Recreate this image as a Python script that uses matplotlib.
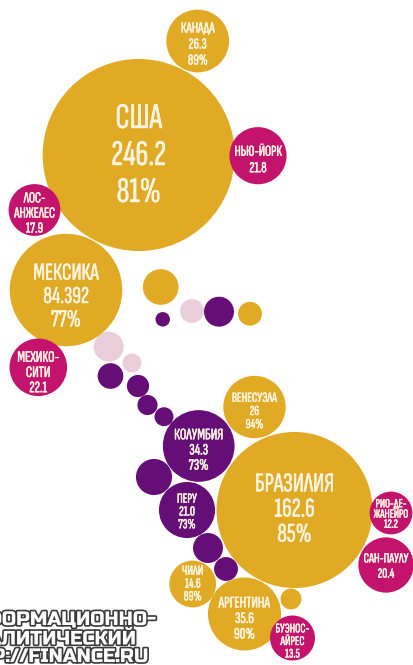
import matplotlib
matplotlib.use("Agg")
import matplotlib.pyplot as plt
import matplotlib.patheffects as pe
from matplotlib.patches import Circle
import numpy as np

W, H = 414, 665
GOLD, MAGENTA, PURPLE, PINK = "#E0AA25", "#C4136D", "#660E78", "#E9CEDA"
K = 6.12  # px radius per sqrt(value)

names = ["США", "КАНАДА", "НЬЮ-ЙОРК", "ЛОС-\nАНЖЕЛЕС", "МЕКСИКА", "МЕХИКО-\nСИТИ",
         "ВЕНЕСУЭЛА", "КОЛУМБИЯ", "БРАЗИЛИЯ", "ПЕРУ", "РИО-ДЕ-\nЖАНЕЙРО", "САН-ПАУЛУ",
         "ЧИЛИ", "АРГЕНТИНА", "БУЭНОС-\nАЙРЕС"]
values = [246.2, 26.3, 21.8, 17.9, 84.392, 22.1, 26, 34.3, 162.6, 21.0, 12.2, 20.4, 14.6, 35.6, 13.5]
value_labels = ["246.2", "26.3", "21.8", "17.9", "84.392", "22.1", "26", "34.3", "162.6", "21.0",
                "12.2", "20.4", "14.6", "35.6", "13.5"]
shares = ["81%", "89%", "", "", "77%", "", "94%", "73%", "85%", "73%", "", "", "89%", "90%", ""]
colors = [GOLD, GOLD, MAGENTA, MAGENTA, GOLD, MAGENTA, GOLD, PURPLE, GOLD, PURPLE,
          MAGENTA, MAGENTA, GOLD, GOLD, MAGENTA]
xs = [138.7, 197.7, 258, 34.5, 66, 38.3, 254.5, 198.7, 294.5, 187, 391, 386, 192.7, 244.5, 292.5]
ys = [155, 41, 155.7, 210, 290, 367.3, 407, 446, 510, 510, 513, 565, 584, 614, 638]
font_sizes = [26, 11, 11, 11, 17.5, 11.5, 10, 11.5, 19.5, 10, 9, 10, 10, 11.5, 9.5]
line_spacing = [1.2, 1.19, 1.22, 1.1, 1.08, 1.11, 1.02, 1.11, 1.12, 0.98, 1.01, 1.22, 0.98, 1.15, 0.96]
text_dy = [1, 3.5, 4.3, 3.5, 7, 5.7, 4.5, 4.5, 0, 2, 1.5, 1.5, 0, 5, 3.5]

other_values = [8.5, 1.4, 3.8, 6, 3.8, 6, 2.4, 4.4, 3.3, 2.7, 2.4, 8.7, 6, 3.8, 2.9]
other_colors = [GOLD, PURPLE, PINK, PURPLE, GOLD, PINK, PINK, PURPLE, PURPLE, PURPLE, PURPLE,
                PURPLE, PURPLE, PURPLE, GOLD]
other_xs = [160.7, 162.7, 192, 219, 250, 108.7, 132, 110.5, 138, 147.5, 164, 154, 208, 226, 291]
other_ys = [287, 319.3, 311, 311.7, 313.7, 346.7, 363, 376, 386, 405, 416.7, 477, 548, 569, 599]

watermark = ["ИНФОРМАЦИОННО-", "АНАЛИТИЧЕСКИЙ", "HTTP://FINANCE.RU"]
watermark_right = [156, 136, 149]
watermark_y = [620, 639, 657]

LABEL_FONT = ["Sofia Sans Extra Condensed", "DejaVu Sans"]
MARK_FONT = ["Russo One", "DejaVu Sans"]

fig = plt.figure(figsize=(W / 100, H / 100), dpi=100, facecolor="white")
ax = fig.add_axes([0, 0, 1, 1])
ax.set_xlim(0, W)
ax.set_ylim(H, 0)
ax.axis("off")

for v, c, x, y in zip(other_values, other_colors, other_xs, other_ys):
    ax.add_patch(Circle((x, y), K * np.sqrt(v), fc=c, ec="none"))
for v, c, x, y in zip(values, colors, xs, ys):
    ax.add_patch(Circle((x, y), K * np.sqrt(v), fc=c, ec="none"))
for n, vl, s, x, y, fs, ls, dy in zip(names, value_labels, shares, xs, ys, font_sizes, line_spacing, text_dy):
    label = "\n".join(t for t in (n, vl, s) if t)
    ax.text(x, y + dy, label, ha="center", va="center", ma="center", color="#FCF4E0",
            fontsize=fs, linespacing=ls, family=LABEL_FONT,
            path_effects=[pe.withStroke(linewidth=0.35, foreground="#FCF4E0")])

for t, xr, y in zip(watermark, watermark_right, watermark_y):
    ax.text(xr, y, t, ha="right", va="center", color="white", fontsize=14,
            family=MARK_FONT,
            path_effects=[pe.withStroke(linewidth=2.4, foreground="#3A3A3A")])

fig.savefig("out.png", dpi=100, facecolor="white")
